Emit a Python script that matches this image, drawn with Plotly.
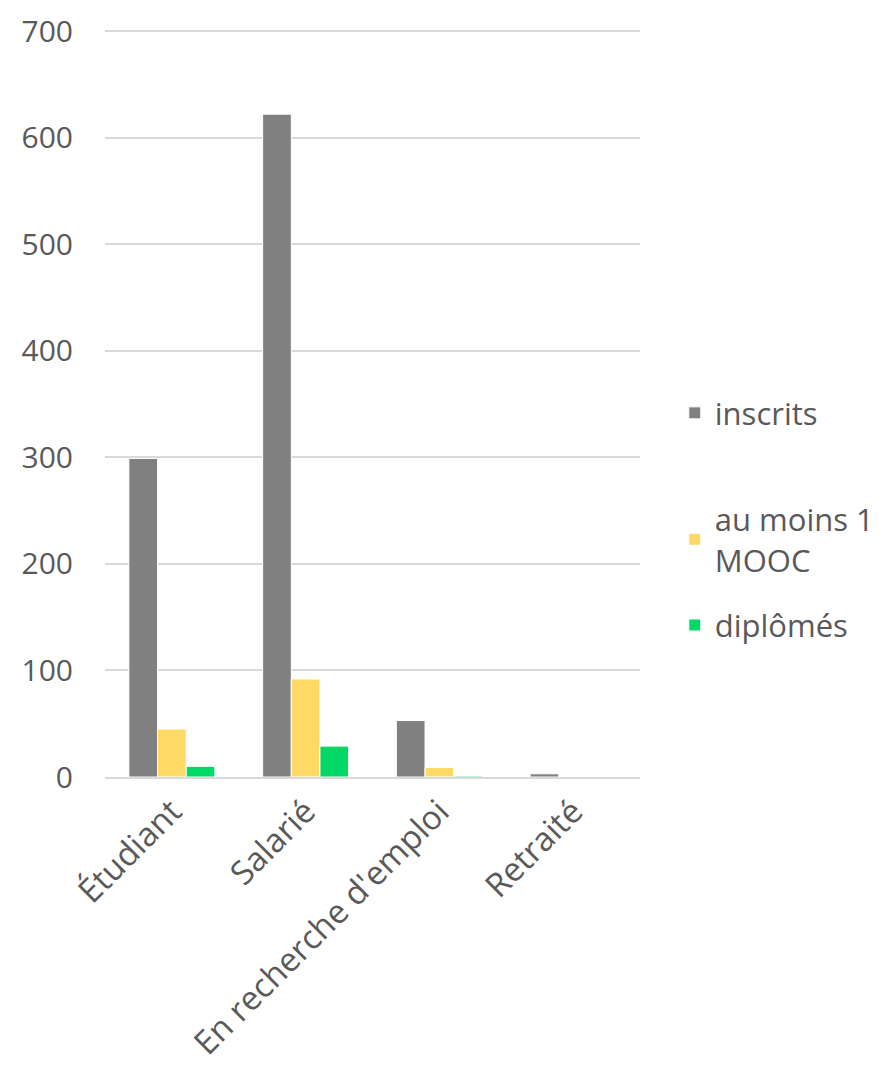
import plotly.graph_objects as go

categories = ["Étudiant", "Salarié", "En recherche d'emploi", "Retraité"]
inscrits = [299, 622, 53, 3]
au_moins_1 = [45, 92, 9, 0]
diplomes = [10, 29, 1, 0]
series_names = ["inscrits", "au moins 1<br>MOOC", "diplômés"]
colors = ["#808080", "#ffd966", "#00d966"]
y_ticks = [0, 100, 200, 300, 400, 500, 600, 700]

legend_ids = ["legend", "legend2", "legend3"]
legend_y = [0.487, 0.318, 0.203]

fig = go.Figure()
for name, vals, col, lid in zip(series_names, [inscrits, au_moins_1, diplomes], colors, legend_ids):
    fig.add_trace(go.Bar(x=categories, y=vals, name=name, legend=lid,
                         marker=dict(color=col, line=dict(color="white", width=1))))

font_c = "#595959"
leg_common = dict(xanchor="left", yanchor="middle", bgcolor="rgba(0,0,0,0)",
                  font=dict(size=31, color=font_c, family="Open Sans"), itemwidth=30)

fig.update_layout(
    width=884, height=1066,
    margin=dict(l=97, r=252, t=22, b=297),
    paper_bgcolor="white", plot_bgcolor="white",
    font=dict(family="Open Sans", size=31, color=font_c),
    barmode="group", bargap=0.357, bargroupgap=0,
    showlegend=True,
    legend=dict(x=1.065, y=legend_y[0], **leg_common),
    legend2=dict(x=1.065, y=legend_y[1], **leg_common),
    legend3=dict(x=1.065, y=legend_y[2], **leg_common),
    xaxis=dict(tickangle=-45, showline=True, linecolor="#d9d9d9", linewidth=2,
               ticks="", tickfont=dict(size=33), automargin=False),
    yaxis=dict(range=[0, 701], tickvals=y_ticks, showgrid=True, gridcolor="#d9d9d9",
               gridwidth=1.5, zeroline=False, ticks="outside", ticklen=25,
               tickcolor="rgba(0,0,0,0)", tickfont=dict(size=30), automargin=False,
               ticklabeloverflow="allow"),
)
fig.write_html("out.html")
